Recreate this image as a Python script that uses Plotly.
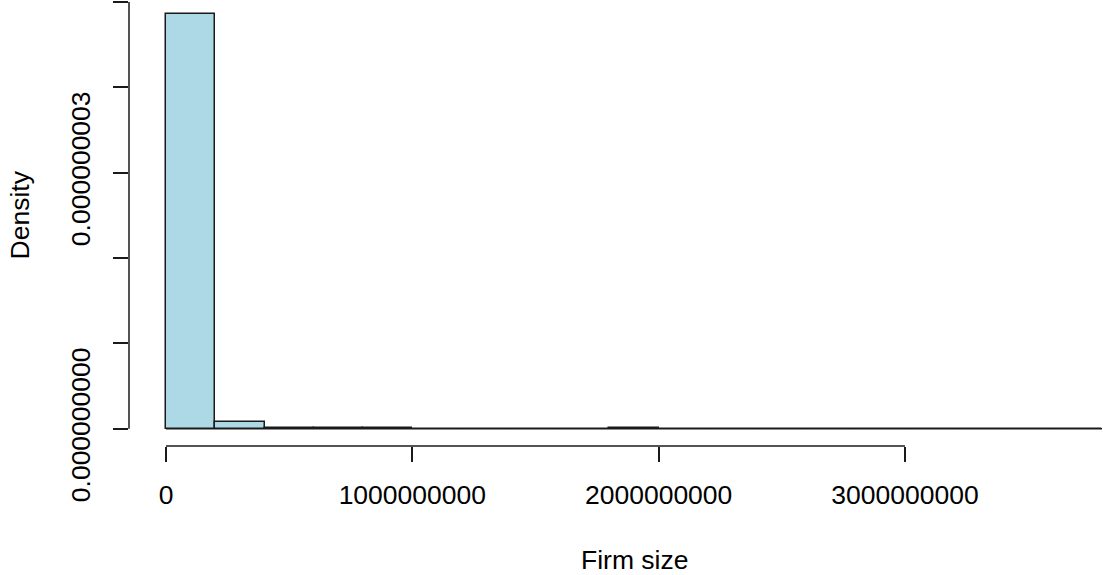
import plotly.graph_objects as go

# Histogram data (R-style hist with freq=FALSE)
bin_edges = [i * 2e8 for i in range(20)]          # 0 .. 3.8e9, width 2e8
density = [4.857e-9, 0.076e-9, 0.012e-9, 0.012e-9, 0.012e-9,
           0.0, 0.0, 0.0, 0.0, 0.011e-9,
           0.0, 0.0, 0.0, 0.0, 0.0,
           0.0, 0.0, 0.0, 0.001e-9]
x_ticks = [0, 1e9, 2e9, 3e9]
x_tick_labels = ["0", "1000000000", "2000000000", "3000000000"]
y_ticks = [0, 1e-9, 2e-9, 3e-9, 4e-9, 5e-9]
y_tick_labels = ["0.000000000", "", "", "0.000000003", "", ""]
x_title = "Firm size"
y_title = "Density"

centers = [(bin_edges[i] + bin_edges[i + 1]) / 2 for i in range(len(density))]
width = bin_edges[1] - bin_edges[0]

W, H = 1103, 575
L, B, T, R = 129, 129, 0, 0
xr = [-0.1502e9, 3.804e9]
yr = [-0.2015e-9, 5.024e-9]

FONT = "Liberation Sans, Arial, sans-serif"
FS = 26.5

fig = go.Figure()
fig.add_trace(go.Bar(
    x=centers, y=density, width=width,
    marker=dict(color="#ADD8E6", line=dict(color="#1a1a1a", width=1.5)),
    hoverinfo="skip",
))
# baseline of empty bins
fig.add_trace(go.Scatter(
    x=[bin_edges[0], bin_edges[-1]], y=[0, 0], mode="lines",
    line=dict(color="#1a1a1a", width=1.5), hoverinfo="skip",
))

fig.update_layout(
    width=W, height=H,
    margin=dict(l=L, r=R, t=T, b=B, pad=0),
    paper_bgcolor="white", plot_bgcolor="white",
    showlegend=False,
    bargap=0,
    font=dict(family=FONT, size=FS, color="#000000"),
    xaxis=dict(range=xr, showgrid=False, zeroline=False, showline=False,
               tickvals=x_ticks, ticktext=x_tick_labels,
               ticks="outside", ticklen=15, tickwidth=1.5, tickcolor="#1a1a1a",
               ticklabelstandoff=10,
               tickfont=dict(family=FONT, size=FS)),
    yaxis=dict(range=yr, showgrid=False, zeroline=False, showline=False,
               tickvals=y_ticks, ticktext=y_tick_labels,
               ticks="outside", ticklen=15, tickwidth=1.5, tickcolor="#1a1a1a",
               tickangle=-90, ticklabelstandoff=12,
               tickfont=dict(family=FONT, size=FS)),
    shapes=[
        dict(type="line", xref="x", yref="paper", x0=x_ticks[0], x1=x_ticks[-1],
             y0=0, y1=0, line=dict(color="#1a1a1a", width=1.5)),
        dict(type="line", xref="paper", yref="y", x0=0, x1=0,
             y0=y_ticks[0], y1=y_ticks[-1], line=dict(color="#1a1a1a", width=1.5)),
    ],
    annotations=[
        dict(text=x_title, xref="x", yref="paper",
             x=(bin_edges[0] + bin_edges[-1]) / 2, y=-(560 - 446) / 446,
             xanchor="center", yanchor="middle", showarrow=False,
             font=dict(family=FONT, size=FS)),
        dict(text=y_title, xref="paper", yref="y",
             x=-(129 - 20) / 974, y=(y_ticks[0] + y_ticks[-1]) / 2,
             xanchor="center", yanchor="middle", showarrow=False, textangle=-90,
             font=dict(family=FONT, size=FS)),
    ],
)

fig.write_html(
    "out.html",
    config={"displayModeBar": False},
    post_script="document.body.style.margin='0';document.body.style.overflow='hidden';",
)
